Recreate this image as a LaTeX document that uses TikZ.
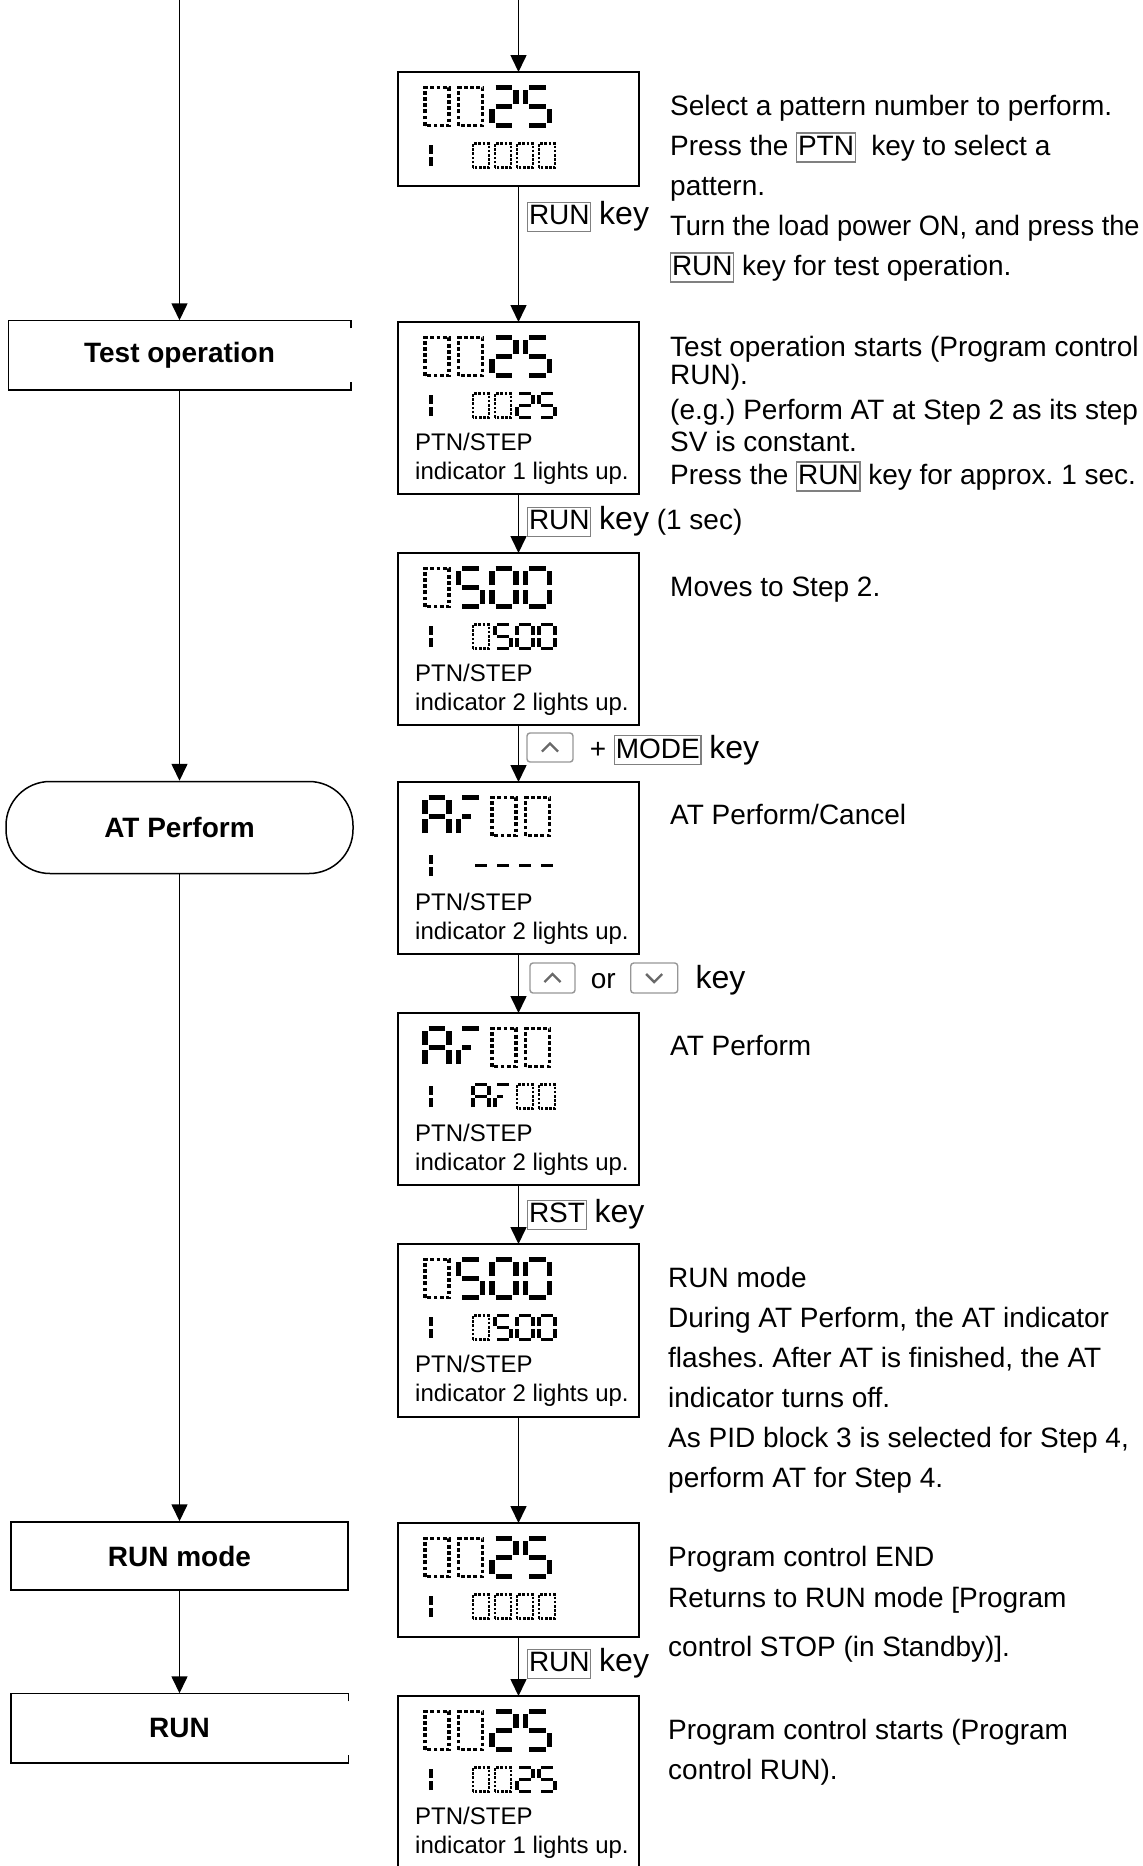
\documentclass[tikz,border=0pt]{standalone}
\usepackage{fontspec}
\usepackage{graphicx}
\setmainfont{Liberation Sans}
\usetikzlibrary{positioning,arrows.meta}
\definecolor{keygray}{RGB}{128,128,128}
\definecolor{icongray}{RGB}{150,150,150}
\frenchspacing

\newcommand{\keycap}[1]{{\setlength{\fboxsep}{0.6pt}\setlength{\fboxrule}{1.2pt}%
  \fcolorbox{keygray}{white}{\rule[-0.2em]{0pt}{0.95em}#1}}}
\newcommand{\keytxt}{{\fontsize{32}{36}\selectfont key}}

\expandafter\def\csname lcdsegs0\endcsname{a,b,c,d,e,f}
\expandafter\def\csname lcdsegs1\endcsname{b,c}
\expandafter\def\csname lcdsegs2\endcsname{a,b,g,e,d}
\expandafter\def\csname lcdsegs5\endcsname{a,f,g,c,d}
\expandafter\def\csname lcdsegsA\endcsname{a,b,c,e,f,g}
\expandafter\def\csname lcdsegsT\endcsname{a,e,h}
\expandafter\def\csname lcdsegs-\endcsname{g}

\tikzset{
  seg a/.pic={\draw[lcd seg] (0.15,2) -- (0.85,2);},
  seg b/.pic={\draw[lcd seg] (1,1.12) -- (1,1.88);},
  seg c/.pic={\draw[lcd seg] (1,0.12) -- (1,0.88);},
  seg d/.pic={\draw[lcd seg] (0.15,0) -- (0.85,0);},
  seg e/.pic={\draw[lcd seg] (0,0.12) -- (0,0.88);},
  seg f/.pic={\draw[lcd seg] (0,1.12) -- (0,1.88);},
  seg g/.pic={\draw[lcd seg] (0.15,1) -- (0.85,1);},
  seg h/.pic={\draw[lcd seg] (0.15,1) -- (0.5,1);}
}

% one character of the display, o = unlit digit
\newcommand{\lcdchar}[4]{%
  \begin{scope}[shift={(#1,#2)}, lcd #3]
    \if o#4
      \draw[lcd dots] (0,0) rectangle (1,2);
    \else
      \begin{scope}[xslant=0.17]
        \edef\lcdlist{\csname lcdsegs#4\endcsname}
        \foreach \sg in \lcdlist {\pic {seg \sg};}
      \end{scope}
    \fi
  \end{scope}}
\newcommand{\lcdrow}[5]{%
  \foreach \ch [count=\k from 0] in {#5} {\lcdchar{#1+#3*\k}{#2}{#4}{\ch}}}
\newcommand{\lcdpanel}[3]{%
  \begin{scope}[shift={(#1.north west)}]
    \lcdrow{27}{53.5}{33.5}{big}{#2}
    \lcdchar{17}{95.5}{small}{1}
    \lcdrow{75}{95.5}{22}{small}{#3}
  \end{scope}}

\begin{document}
\begin{tikzpicture}[x=1pt, y=-1pt,
    font=\fontsize{28}{40}\selectfont,
    disp/.style={draw, line width=1.5pt, minimum width=241pt, inner sep=0pt, outer sep=0pt,
        anchor=north},
    sidebox/.style={line width=1.5pt, minimum height=68pt, inner sep=0pt,
        font=\fontsize{28}{33}\selectfont\bfseries},
    pill/.style={sidebox, draw, rounded corners=44pt, minimum width=347pt, minimum height=92pt},
    arrow/.style={-{Triangle[width=16pt,length=17pt]}, line width=1.6pt},
    frame/.style={line width=1.5pt},
    keylabel/.style={anchor=west, inner sep=0pt, text height=28.4pt, text depth=7.4pt},
    keyicon/.style={draw=icongray, line width=1.4pt, rounded corners=3pt,
        minimum width=46pt, minimum height=29pt, inner sep=0pt},
    chevron/.style={draw=icongray!70!black, line width=2.4pt},
    note/.style={anchor=north west, inner sep=0pt, align=left},
    lcdnote/.style={note, font=\fontsize{24}{28.5}\selectfont},
    lcd big/.style={x=24pt, y=19pt,
        lcd seg/.style={line width=5.5pt, line cap=butt},
        lcd dots/.style={line width=3.8pt, dash pattern=on 3.8pt off 2.4pt}},
    lcd small/.style={x=16pt, y=12pt,
        lcd seg/.style={line width=3.6pt, line cap=butt},
        lcd dots/.style={line width=2.6pt, dash pattern=on 2.6pt off 1.6pt}}
]
\useasboundingbox (0,0) rectangle (1143,1866);

% left column
\coordinate (ltop) at (179.5,0);
\node[sidebox, minimum width=341pt] (test) at (179.5,355) {Test operation};
\node[pill] (atp) at (179.5,827.5) {AT Perform};
\node[sidebox, draw, minimum width=337pt] (runmode) at (179.5,1556) {RUN mode};
\node[sidebox, minimum width=336pt] (run) at (179.5,1728) {RUN};
\draw[frame] ([yshift=-8pt]test.north east) |- (test.north west) |- (test.south east) -- ++(0,-8);
\draw[frame] ([yshift=-8pt]run.north east) |- (run.north west) |- (run.south east) -- ++(0,-8);

\draw[arrow] (ltop) -- (test);
\draw[arrow] (test) -- (atp);
\draw[arrow] (atp) -- (runmode);
\draw[arrow] (runmode) -- (run);

% displays
\coordinate (ctop) at (518.5,0);
\node[disp, minimum height=114pt] (d1) at (518.5,72) {};
\node[disp, minimum height=172pt, below=136pt of d1] (d2) {};
\node[disp, minimum height=172pt, below=59pt of d2] (d3) {};
\node[disp, minimum height=172pt, below=57pt of d3] (d4) {};
\node[disp, minimum height=172pt, below=59pt of d4] (d5) {};
\node[disp, minimum height=173pt, below=59pt of d5] (d6) {};
\node[disp, minimum height=114pt, below=106pt of d6] (d7) {};
\node[disp, draw=none, minimum height=170pt, below=59pt of d7] (d8) {};
\draw[frame] (d8.south west) -- (d8.north west) -- (d8.north east) -- (d8.south east);

\lcdpanel{d1}{o,o,2,5}{o,o,o,o}
\lcdpanel{d2}{o,o,2,5}{o,o,2,5}
\lcdpanel{d3}{o,5,0,0}{o,5,0,0}
\lcdpanel{d4}{A,T,o,o}{-,-,-,-}
\lcdpanel{d5}{A,T,o,o}{A,T,o,o}
\lcdpanel{d6}{o,5,0,0}{o,5,0,0}
\lcdpanel{d7}{o,o,2,5}{o,o,o,o}
\lcdpanel{d8}{o,o,2,5}{o,o,2,5}

\node[lcdnote] (n2) at ([shift={(17,108.5)}]d2.north west) {\strut PTN/STEP\\indicator 1 lights up.};
\node[lcdnote] (n3) at ([shift={(17,108.5)}]d3.north west) {\strut PTN/STEP\\indicator 2 lights up.};
\node[lcdnote] (n4) at ([shift={(17,108.5)}]d4.north west) {\strut PTN/STEP\\indicator 2 lights up.};
\node[lcdnote] (n5) at ([shift={(17,108.5)}]d5.north west) {\strut PTN/STEP\\indicator 2 lights up.};
\node[lcdnote] (n6) at ([shift={(17,108.5)}]d6.north west) {\strut PTN/STEP\\indicator 2 lights up.};
\node[lcdnote] (n8) at ([shift={(17,108.5)}]d8.north west) {\strut PTN/STEP\\indicator 1 lights up.};

\draw[arrow] (ctop) -- (d1);
\draw[arrow] (d1) -- (d2);
\draw[arrow] (d2) -- (d3);
\draw[arrow] (d3) -- (d4);
\draw[arrow] (d4) -- (d5);
\draw[arrow] (d5) -- (d6);
\draw[arrow] (d6) -- (d7);
\draw[arrow] (d7) -- (d8);

% key labels
\node[keylabel] (k1) at (527,214) {\keycap{RUN} \keytxt};
\node[keylabel] (k2) at (527,519) {\keycap{RUN} \keytxt{} (1 sec)};
\node[keyicon] (up1) at (550,747.5) {};
\draw[chevron] ([shift={(-8,4)}]up1.center) -- ([shift={(0,-4)}]up1.center) -- ([shift={(8,4)}]up1.center);
\node[keylabel, right=16pt of up1] (k3) {+ \keycap{MODE} \keytxt};
\node[keyicon, minimum width=45pt, minimum height=30pt] (up2) at (552.5,978) {};
\draw[chevron] ([shift={(-8,4)}]up2.center) -- ([shift={(0,-4)}]up2.center) -- ([shift={(8,4)}]up2.center);
\node[keylabel, right=15pt of up2] (or) {or};
\node[keyicon, minimum width=47pt, minimum height=30pt, right=14pt of or] (down) {};
\draw[chevron] ([shift={(-8,-4)}]down.center) -- ([shift={(0,4)}]down.center) -- ([shift={(8,-4)}]down.center);
\node[keylabel, right=17pt of down] (k4) {\keytxt};
\node[keylabel] (k5) at (527,1212) {\keycap{RST} \keytxt};
\node[keylabel] (k6) at (527,1661) {\keycap{RUN} \keytxt};

% explanations
\node[note] (b1) at (670,87) {\strut Select a pattern number to perform.\\
  Press the \keycap{PTN}~ key to select a\\
  pattern.\\
  \scalebox{0.972}[1]{Turn the load power ON, and press the}\\
  \keycap{RUN} key for test operation.};
\node[note] (b2) at (670,328.5) {\strut Test operation starts (Program control\\[-12.6pt]
  RUN).\\[-4.3pt]
  (e.g.) Perform AT at Step 2 as its step\\[-7.9pt]
  SV is constant.\\[-7.8pt]
  Press the \keycap{RUN} key for approx. 1 sec.};
\node[note] (b3) at (670,568) {\strut Moves to Step 2.};
\node[note] (b4) at (670,796) {\strut AT Perform/Cancel};
\node[note] (b5) at (670,1027) {\strut AT Perform};
\node[note] (b6) at (668,1259) {\strut RUN mode\\
  During AT Perform, the AT indicator\\
  flashes. After AT is finished, the AT\\
  indicator turns off.\\
  As PID block 3 is selected for Step 4,\\
  perform AT for Step 4.};
\node[note] (b7) at (668,1538) {\strut Program control END\\[1.7pt]
  Returns to RUN mode [Program\\[8.8pt]
  control STOP (in Standby)].};
\node[note] (b8) at (668,1711) {\strut Program control starts (Program\\
  control RUN).};

\end{tikzpicture}
\end{document}
